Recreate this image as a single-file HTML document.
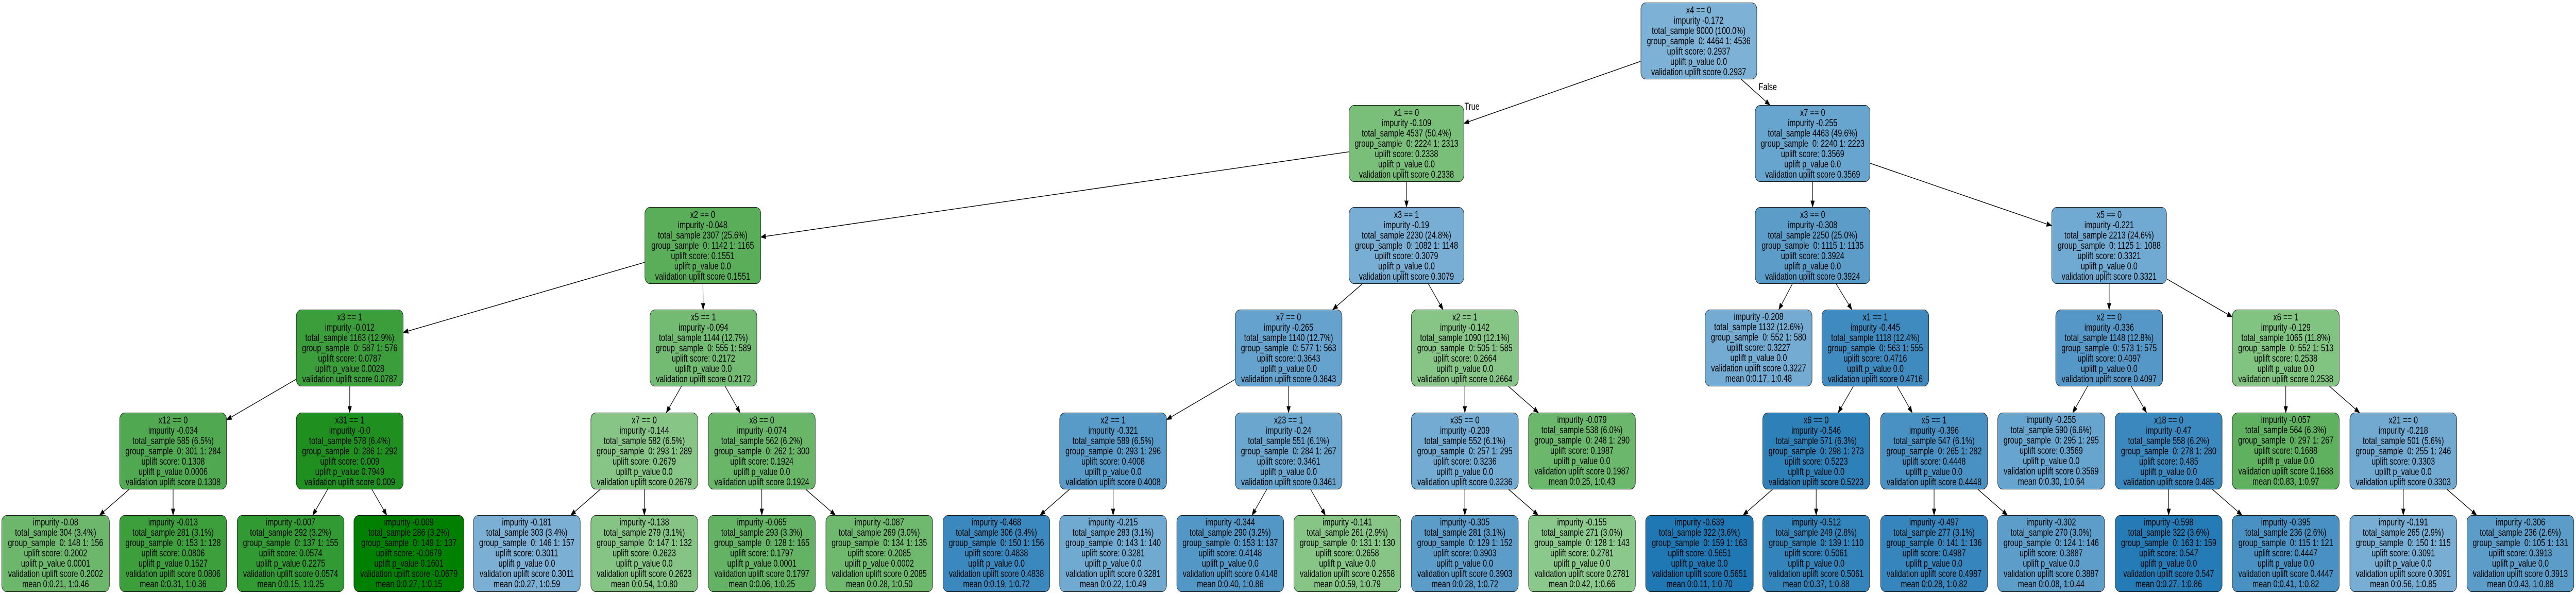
<!DOCTYPE html>
<html><head><meta charset="utf-8">
<style>
html,body{margin:0;padding:0;background:#fff;width:100%;height:100%;overflow:hidden;}
#wrap{position:absolute;left:0;top:0;width:6533px;height:1155px;transform-origin:0 0;font-family:"Liberation Sans",Arial,sans-serif;background:#fff;}
.n{position:absolute;height:149px;border:1.3px solid #1a1a1a;border-radius:13px;box-sizing:border-box;text-align:center;font-size:19px;line-height:20px;color:#000;padding-top:5px;white-space:nowrap;overflow:hidden;}
.n.lf{padding-top:4px;}
svg{position:absolute;left:0;top:0;}
.lb{position:absolute;font-size:19px;line-height:20px;}
</style></head><body>
<div id="wrap">
<svg id="ed" width="6533" height="1155"></svg>
<div class="lb" style="left:3714px;top:198px;">True</div>
<div class="lb" style="left:4460px;top:160px;">False</div>

<div class="n" id="n0">x4 == 0<br>impurity -0.172<br>total_sample 9000 (100.0%)<br>group_sample&nbsp; 0: 4464 1: 4536<br>uplift score: 0.2937<br>uplift p_value 0.0<br>validation uplift score 0.2937</div>

<div class="n" id="a">x1 == 0<br>impurity -0.109<br>total_sample 4537 (50.4%)<br>group_sample&nbsp; 0: 2224 1: 2313<br>uplift score: 0.2338<br>uplift p_value 0.0<br>validation uplift score 0.2338</div>
<div class="n" id="b">x7 == 0<br>impurity -0.255<br>total_sample 4463 (49.6%)<br>group_sample&nbsp; 0: 2240 1: 2223<br>uplift score: 0.3569<br>uplift p_value 0.0<br>validation uplift score 0.3569</div>

<div class="n" id="c">x2 == 0<br>impurity -0.048<br>total_sample 2307 (25.6%)<br>group_sample&nbsp; 0: 1142 1: 1165<br>uplift score: 0.1551<br>uplift p_value 0.0<br>validation uplift score 0.1551</div>
<div class="n" id="d">x3 == 1<br>impurity -0.19<br>total_sample 2230 (24.8%)<br>group_sample&nbsp; 0: 1082 1: 1148<br>uplift score: 0.3079<br>uplift p_value 0.0<br>validation uplift score 0.3079</div>
<div class="n" id="e">x3 == 0<br>impurity -0.308<br>total_sample 2250 (25.0%)<br>group_sample&nbsp; 0: 1115 1: 1135<br>uplift score: 0.3924<br>uplift p_value 0.0<br>validation uplift score 0.3924</div>
<div class="n" id="f">x5 == 0<br>impurity -0.221<br>total_sample 2213 (24.6%)<br>group_sample&nbsp; 0: 1125 1: 1088<br>uplift score: 0.3321<br>uplift p_value 0.0<br>validation uplift score 0.3321</div>

<div class="n" id="g">x3 == 1<br>impurity -0.012<br>total_sample 1163 (12.9%)<br>group_sample&nbsp; 0: 587 1: 576<br>uplift score: 0.0787<br>uplift p_value 0.0028<br>validation uplift score 0.0787</div>
<div class="n" id="h">x5 == 1<br>impurity -0.094<br>total_sample 1144 (12.7%)<br>group_sample&nbsp; 0: 555 1: 589<br>uplift score: 0.2172<br>uplift p_value 0.0<br>validation uplift score 0.2172</div>
<div class="n" id="i">x7 == 0<br>impurity -0.265<br>total_sample 1140 (12.7%)<br>group_sample&nbsp; 0: 577 1: 563<br>uplift score: 0.3643<br>uplift p_value 0.0<br>validation uplift score 0.3643</div>
<div class="n" id="j">x2 == 1<br>impurity -0.142<br>total_sample 1090 (12.1%)<br>group_sample&nbsp; 0: 505 1: 585<br>uplift score: 0.2664<br>uplift p_value 0.0<br>validation uplift score 0.2664</div>
<div class="n lf" id="k">impurity -0.208<br>total_sample 1132 (12.6%)<br>group_sample&nbsp; 0: 552 1: 580<br>uplift score: 0.3227<br>uplift p_value 0.0<br>validation uplift score 0.3227<br>mean 0:0.17, 1:0.48</div>
<div class="n" id="l">x1 == 1<br>impurity -0.445<br>total_sample 1118 (12.4%)<br>group_sample&nbsp; 0: 563 1: 555<br>uplift score: 0.4716<br>uplift p_value 0.0<br>validation uplift score 0.4716</div>
<div class="n" id="m">x2 == 0<br>impurity -0.336<br>total_sample 1148 (12.8%)<br>group_sample&nbsp; 0: 573 1: 575<br>uplift score: 0.4097<br>uplift p_value 0.0<br>validation uplift score 0.4097</div>
<div class="n" id="nn">x6 == 1<br>impurity -0.129<br>total_sample 1065 (11.8%)<br>group_sample&nbsp; 0: 552 1: 513<br>uplift score: 0.2538<br>uplift p_value 0.0<br>validation uplift score 0.2538</div>

<div class="n" id="o">x12 == 0<br>impurity -0.034<br>total_sample 585 (6.5%)<br>group_sample&nbsp; 0: 301 1: 284<br>uplift score: 0.1308<br>uplift p_value 0.0006<br>validation uplift score 0.1308</div>
<div class="n" id="p">x31 == 1<br>impurity -0.0<br>total_sample 578 (6.4%)<br>group_sample&nbsp; 0: 286 1: 292<br>uplift score: 0.009<br>uplift p_value 0.7949<br>validation uplift score 0.009</div>
<div class="n" id="q">x7 == 0<br>impurity -0.144<br>total_sample 582 (6.5%)<br>group_sample&nbsp; 0: 293 1: 289<br>uplift score: 0.2679<br>uplift p_value 0.0<br>validation uplift score 0.2679</div>
<div class="n" id="r">x8 == 0<br>impurity -0.074<br>total_sample 562 (6.2%)<br>group_sample&nbsp; 0: 262 1: 300<br>uplift score: 0.1924<br>uplift p_value 0.0<br>validation uplift score 0.1924</div>
<div class="n" id="s">x2 == 1<br>impurity -0.321<br>total_sample 589 (6.5%)<br>group_sample&nbsp; 0: 293 1: 296<br>uplift score: 0.4008<br>uplift p_value 0.0<br>validation uplift score 0.4008</div>
<div class="n" id="t">x23 == 1<br>impurity -0.24<br>total_sample 551 (6.1%)<br>group_sample&nbsp; 0: 284 1: 267<br>uplift score: 0.3461<br>uplift p_value 0.0<br>validation uplift score 0.3461</div>
<div class="n" id="u">x35 == 0<br>impurity -0.209<br>total_sample 552 (6.1%)<br>group_sample&nbsp; 0: 257 1: 295<br>uplift score: 0.3236<br>uplift p_value 0.0<br>validation uplift score 0.3236</div>
<div class="n lf" id="v">impurity -0.079<br>total_sample 538 (6.0%)<br>group_sample&nbsp; 0: 248 1: 290<br>uplift score: 0.1987<br>uplift p_value 0.0<br>validation uplift score 0.1987<br>mean 0:0.25, 1:0.43</div>
<div class="n" id="w">x6 == 0<br>impurity -0.546<br>total_sample 571 (6.3%)<br>group_sample&nbsp; 0: 298 1: 273<br>uplift score: 0.5223<br>uplift p_value 0.0<br>validation uplift score 0.5223</div>
<div class="n" id="x">x5 == 1<br>impurity -0.396<br>total_sample 547 (6.1%)<br>group_sample&nbsp; 0: 265 1: 282<br>uplift score: 0.4448<br>uplift p_value 0.0<br>validation uplift score 0.4448</div>
<div class="n lf" id="y">impurity -0.255<br>total_sample 590 (6.6%)<br>group_sample&nbsp; 0: 295 1: 295<br>uplift score: 0.3569<br>uplift p_value 0.0<br>validation uplift score 0.3569<br>mean 0:0.30, 1:0.64</div>
<div class="n" id="z">x18 == 0<br>impurity -0.47<br>total_sample 558 (6.2%)<br>group_sample&nbsp; 0: 278 1: 280<br>uplift score: 0.485<br>uplift p_value 0.0<br>validation uplift score 0.485</div>
<div class="n lf" id="aa">impurity -0.057<br>total_sample 564 (6.3%)<br>group_sample&nbsp; 0: 297 1: 267<br>uplift score: 0.1688<br>uplift p_value 0.0<br>validation uplift score 0.1688<br>mean 0:0.83, 1:0.97</div>
<div class="n" id="ab">x21 == 0<br>impurity -0.218<br>total_sample 501 (5.6%)<br>group_sample&nbsp; 0: 255 1: 246<br>uplift score: 0.3303<br>uplift p_value 0.0<br>validation uplift score 0.3303</div>

<div class="n lf" id="L1">impurity -0.08<br>total_sample 304 (3.4%)<br>group_sample&nbsp; 0: 148 1: 156<br>uplift score: 0.2002<br>uplift p_value 0.0001<br>validation uplift score 0.2002<br>mean 0:0.21, 1:0.46</div>
<div class="n lf" id="L2">impurity -0.013<br>total_sample 281 (3.1%)<br>group_sample&nbsp; 0: 153 1: 128<br>uplift score: 0.0806<br>uplift p_value 0.1527<br>validation uplift score 0.0806<br>mean 0:0.31, 1:0.36</div>
<div class="n lf" id="L3">impurity -0.007<br>total_sample 292 (3.2%)<br>group_sample&nbsp; 0: 137 1: 155<br>uplift score: 0.0574<br>uplift p_value 0.2275<br>validation uplift score 0.0574<br>mean 0:0.15, 1:0.25</div>
<div class="n lf" id="L4">impurity -0.009<br>total_sample 286 (3.2%)<br>group_sample&nbsp; 0: 149 1: 137<br>uplift score: -0.0679<br>uplift p_value 0.1601<br>validation uplift score -0.0679<br>mean 0:0.27, 1:0.15</div>
<div class="n lf" id="L5">impurity -0.181<br>total_sample 303 (3.4%)<br>group_sample&nbsp; 0: 146 1: 157<br>uplift score: 0.3011<br>uplift p_value 0.0<br>validation uplift score 0.3011<br>mean 0:0.27, 1:0.59</div>
<div class="n lf" id="L6">impurity -0.138<br>total_sample 279 (3.1%)<br>group_sample&nbsp; 0: 147 1: 132<br>uplift score: 0.2623<br>uplift p_value 0.0<br>validation uplift score 0.2623<br>mean 0:0.54, 1:0.80</div>
<div class="n lf" id="L7">impurity -0.065<br>total_sample 293 (3.3%)<br>group_sample&nbsp; 0: 128 1: 165<br>uplift score: 0.1797<br>uplift p_value 0.0001<br>validation uplift score 0.1797<br>mean 0:0.06, 1:0.25</div>
<div class="n lf" id="L8">impurity -0.087<br>total_sample 269 (3.0%)<br>group_sample&nbsp; 0: 134 1: 135<br>uplift score: 0.2085<br>uplift p_value 0.0002<br>validation uplift score 0.2085<br>mean 0:0.28, 1:0.50</div>
<div class="n lf" id="L9">impurity -0.468<br>total_sample 306 (3.4%)<br>group_sample&nbsp; 0: 150 1: 156<br>uplift score: 0.4838<br>uplift p_value 0.0<br>validation uplift score 0.4838<br>mean 0:0.19, 1:0.72</div>
<div class="n lf" id="L10">impurity -0.215<br>total_sample 283 (3.1%)<br>group_sample&nbsp; 0: 143 1: 140<br>uplift score: 0.3281<br>uplift p_value 0.0<br>validation uplift score 0.3281<br>mean 0:0.22, 1:0.49</div>
<div class="n lf" id="L11">impurity -0.344<br>total_sample 290 (3.2%)<br>group_sample&nbsp; 0: 153 1: 137<br>uplift score: 0.4148<br>uplift p_value 0.0<br>validation uplift score 0.4148<br>mean 0:0.40, 1:0.86</div>
<div class="n lf" id="L12">impurity -0.141<br>total_sample 261 (2.9%)<br>group_sample&nbsp; 0: 131 1: 130<br>uplift score: 0.2658<br>uplift p_value 0.0<br>validation uplift score 0.2658<br>mean 0:0.59, 1:0.79</div>
<div class="n lf" id="L13">impurity -0.305<br>total_sample 281 (3.1%)<br>group_sample&nbsp; 0: 129 1: 152<br>uplift score: 0.3903<br>uplift p_value 0.0<br>validation uplift score 0.3903<br>mean 0:0.28, 1:0.72</div>
<div class="n lf" id="L14">impurity -0.155<br>total_sample 271 (3.0%)<br>group_sample&nbsp; 0: 128 1: 143<br>uplift score: 0.2781<br>uplift p_value 0.0<br>validation uplift score 0.2781<br>mean 0:0.42, 1:0.66</div>
<div class="n lf" id="L15">impurity -0.639<br>total_sample 322 (3.6%)<br>group_sample&nbsp; 0: 159 1: 163<br>uplift score: 0.5651<br>uplift p_value 0.0<br>validation uplift score 0.5651<br>mean 0:0.11, 1:0.70</div>
<div class="n lf" id="L16">impurity -0.512<br>total_sample 249 (2.8%)<br>group_sample&nbsp; 0: 139 1: 110<br>uplift score: 0.5061<br>uplift p_value 0.0<br>validation uplift score 0.5061<br>mean 0:0.37, 1:0.88</div>
<div class="n lf" id="L17">impurity -0.497<br>total_sample 277 (3.1%)<br>group_sample&nbsp; 0: 141 1: 136<br>uplift score: 0.4987<br>uplift p_value 0.0<br>validation uplift score 0.4987<br>mean 0:0.28, 1:0.82</div>
<div class="n lf" id="L18">impurity -0.302<br>total_sample 270 (3.0%)<br>group_sample&nbsp; 0: 124 1: 146<br>uplift score: 0.3887<br>uplift p_value 0.0<br>validation uplift score 0.3887<br>mean 0:0.08, 1:0.44</div>
<div class="n lf" id="L19">impurity -0.598<br>total_sample 322 (3.6%)<br>group_sample&nbsp; 0: 163 1: 159<br>uplift score: 0.547<br>uplift p_value 0.0<br>validation uplift score 0.547<br>mean 0:0.27, 1:0.86</div>
<div class="n lf" id="L20">impurity -0.395<br>total_sample 236 (2.6%)<br>group_sample&nbsp; 0: 115 1: 121<br>uplift score: 0.4447<br>uplift p_value 0.0<br>validation uplift score 0.4447<br>mean 0:0.41, 1:0.82</div>
<div class="n lf" id="L21">impurity -0.191<br>total_sample 265 (2.9%)<br>group_sample&nbsp; 0: 150 1: 115<br>uplift score: 0.3091<br>uplift p_value 0.0<br>validation uplift score 0.3091<br>mean 0:0.56, 1:0.85</div>
<div class="n lf" id="L22">impurity -0.306<br>total_sample 236 (2.6%)<br>group_sample&nbsp; 0: 105 1: 131<br>uplift score: 0.3913<br>uplift p_value 0.0<br>validation uplift score 0.3913<br>mean 0:0.43, 1:0.88</div>
</div>

<script>
var T=[5,204,402,601,801,1000];
var N={
n0:[4308,0,295,0.2937,null],
a:[3567,1,292,0.2338,'n0'],b:[4597,1,292,0.3569,'n0'],
c:[1782,2,295,0.1551,'a'],d:[3567,2,292,0.3079,'a'],e:[4597,2,292,0.3924,'b'],f:[5349,2,292,0.3321,'b'],
g:[887,3,272,0.0787,'c'],h:[1784,3,272,0.2172,'c'],i:[3268,3,272,0.3643,'d'],j:[3715,3,272,0.2664,'d'],
k:[4460,3,272,0.3227,'e'],l:[4756,3,272,0.4716,'e'],m:[5349,3,272,0.4097,'f'],nn:[5797,3,272,0.2538,'f'],
o:[439,4,272,0.1308,'g'],p:[887,4,272,0.009,'g'],q:[1634,4,272,0.2679,'h'],r:[1932,4,272,0.1924,'h'],
s:[2823,4,272,0.4008,'i'],t:[3268,4,272,0.3461,'i'],u:[3715,4,272,0.3236,'j'],v:[4012,4,272,0.1987,'j'],
w:[4606,4,272,0.5223,'l'],x:[4905,4,272,0.4448,'l'],y:[5202,4,272,0.3569,'m'],z:[5500,4,272,0.485,'m'],
aa:[5797,4,272,0.1688,'nn'],ab:[6095,4,272,0.3303,'nn'],
L1:[141,5,274,0.2002,'o'],L2:[439,5,272,0.0806,'o'],L3:[737,5,272,0.0574,'p'],L4:[1037,5,280,-0.0679,'p'],
L5:[1336,5,272,0.3011,'q'],L6:[1634,5,272,0.2623,'q'],L7:[1932,5,272,0.1797,'r'],L8:[2230,5,272,0.2085,'r'],
L9:[2527,5,272,0.4838,'s'],L10:[2823,5,272,0.3281,'s'],L11:[3120,5,272,0.4148,'t'],L12:[3417,5,272,0.2658,'t'],
L13:[3715,5,272,0.3903,'u'],L14:[4012,5,272,0.2781,'u'],L15:[4310,5,274,0.5651,'w'],L16:[4606,5,272,0.5061,'w'],
L17:[4905,5,272,0.4987,'x'],L18:[5202,5,272,0.3887,'x'],L19:[5500,5,272,0.547,'z'],L20:[5797,5,272,0.4447,'z'],
L21:[6095,5,272,0.3091,'ab'],L22:[6392,5,272,0.3913,'ab']};
function col(s){var r,g,b;
 if(s<0.285){var t=(s+0.068)/0.348;if(t<0)t=0;if(t>1)t=1;r=Math.round(140*t);g=Math.round(128+72*t);b=r;}
 else{var t=(s-0.28)/0.285;if(t>1)t=1;if(t<0)t=0;r=Math.round(130-99*t);g=Math.round(180-61*t);b=Math.round(215-35*t);}
 return 'rgb('+r+','+g+','+b+')';}
var H=149,svg=document.getElementById('ed'),out='';
for(var id in N){var v=N[id],el=document.getElementById(id);
 el.style.left=(v[0]-v[2]/2)+'px';el.style.top=T[v[1]]+'px';el.style.width=v[2]+'px';el.style.background=col(v[3]);}
for(var id in N){var v=N[id];if(!v[4])continue;var P=N[v[4]];
 var px=P[0],py=T[P[1]]+H/2,cx=v[0],cy=T[v[1]]+H/2,dx=cx-px,dy=cy-py;
 var tp=Math.min(dx?P[2]/2/Math.abs(dx):1e9,(H/2)/Math.abs(dy));
 var tc=Math.min(dx?v[2]/2/Math.abs(dx):1e9,(H/2)/Math.abs(dy));
 var sx=px+dx*tp,sy=py+dy*tp,ex=cx-dx*tc,ey=cy-dy*tc;
 var L=Math.sqrt(dx*dx+dy*dy),ux=dx/L,uy=dy/L,al=12,aw=4.5;
 var bx=ex-ux*al,by=ey-uy*al;
 out+='<line x1="'+sx+'" y1="'+sy+'" x2="'+bx+'" y2="'+by+'" stroke="#000" stroke-width="1.4"/>';
 out+='<polygon points="'+ex+','+ey+' '+(bx-uy*aw)+','+(by+ux*aw)+' '+(bx+uy*aw)+','+(by-ux*aw)+'" fill="#000" stroke="#000"/>';}
svg.innerHTML=out;
function fit(){var w=window.innerWidth||6533,h=window.innerHeight||1155;
 document.getElementById('wrap').style.transform='scale('+(w/6533)+','+(h/1155)+')';}
fit();window.addEventListener('resize',fit);
</script>
</body></html>
